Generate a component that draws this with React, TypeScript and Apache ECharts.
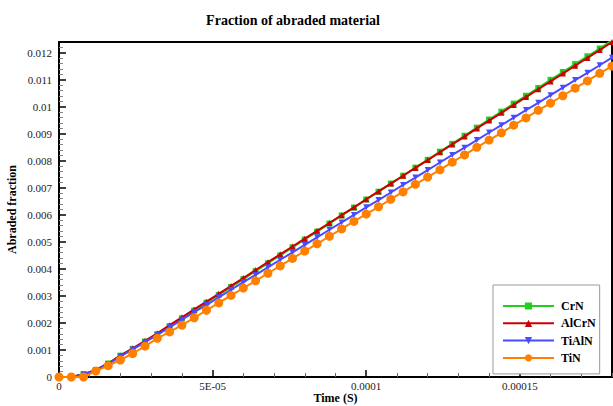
import React, { useEffect, useRef } from "react";
import * as echarts from "echarts";

const timeS = [
  0, 4e-6, 8e-6, 1.2e-5, 1.6e-5, 2e-5, 2.4e-5, 2.8e-5, 3.2e-5, 3.6e-5,
  4e-5, 4.4e-5, 4.8e-5, 5.2e-5, 5.6e-5, 6e-5, 6.4e-5, 6.8e-5, 7.2e-5, 7.6e-5,
  8e-5, 8.4e-5, 8.8e-5, 9.2e-5, 9.6e-5, 1e-4, 1.04e-4, 1.08e-4, 1.12e-4, 1.16e-4,
  1.2e-4, 1.24e-4, 1.28e-4, 1.32e-4, 1.36e-4, 1.4e-4, 1.44e-4, 1.48e-4, 1.52e-4, 1.56e-4,
  1.6e-4, 1.64e-4, 1.68e-4, 1.72e-4, 1.76e-4, 1.8e-4,
];

const crN = [
  0, 0, 0.0001, 0.00026, 0.0005, 0.00079, 0.00104, 0.00131, 0.00158, 0.00188,
  0.00217, 0.00246, 0.00275, 0.00304, 0.00333, 0.00362, 0.00392, 0.00421, 0.0045, 0.0048,
  0.00509, 0.00538, 0.00568, 0.00598, 0.00627, 0.00657, 0.00686, 0.00716, 0.00745, 0.00775,
  0.00804, 0.00834, 0.00863, 0.00893, 0.00923, 0.00953, 0.00982, 0.01012, 0.01041, 0.0107,
  0.011, 0.01129, 0.01158, 0.01187, 0.01216, 0.01246,
];

const alCrN = [
  0, 0, 0.0001, 0.00026, 0.0005, 0.0008, 0.00106, 0.00134, 0.00162, 0.00192,
  0.00221, 0.0025, 0.00279, 0.00308, 0.00337, 0.00366, 0.00396, 0.00425, 0.00454, 0.00483,
  0.00512, 0.00541, 0.0057, 0.00599, 0.00628, 0.00658, 0.00687, 0.00716, 0.00745, 0.00774,
  0.00803, 0.00832, 0.00861, 0.0089, 0.0092, 0.00949, 0.00978, 0.01007, 0.01036, 0.01065,
  0.01094, 0.01123, 0.01152, 0.01181, 0.0121, 0.0124,
];

const tiAlN = [
  0, 0, 0.0001, 0.00025, 0.00048, 0.00076, 0.00102, 0.00129, 0.00156, 0.00184,
  0.00212, 0.0024, 0.00267, 0.00295, 0.00323, 0.00351, 0.00378, 0.00406, 0.00434, 0.00461,
  0.00489, 0.00517, 0.00545, 0.00572, 0.006, 0.00628, 0.00655, 0.00683, 0.00711, 0.00738,
  0.00766, 0.00794, 0.00822, 0.00849, 0.00877, 0.00905, 0.00932, 0.0096, 0.00988, 0.01015,
  0.01043, 0.01071, 0.01099, 0.01126, 0.01154, 0.01182,
];

const tiN = [
  0, 0, 0, 0.00022, 0.00042, 0.00063, 0.00087, 0.00114, 0.00143, 0.00167,
  0.00192, 0.00219, 0.00247, 0.00274, 0.00302, 0.00329, 0.00356, 0.00384, 0.00411, 0.00439,
  0.00466, 0.00493, 0.00521, 0.00548, 0.00576, 0.00603, 0.0063, 0.00658, 0.00685, 0.00713,
  0.0074, 0.00767, 0.00795, 0.00822, 0.0085, 0.00877, 0.00904, 0.00932, 0.00959, 0.00987,
  0.01014, 0.01041, 0.01069, 0.01096, 0.01124, 0.01151,
];

const seriesNames = ["CrN", "AlCrN", "TiAlN", "TiN"];
const seriesColors = ["#1fd01f", "#cc0000", "#4a4aff", "#ff8000"];
const seriesSymbols = ["rect", "triangle", "triangle", "circle"];
const seriesSymbolSizes = [6, 6, 6, 9];
const seriesSymbolRotate = [0, 0, 180, 0];
const seriesValues = [crN, alCrN, tiAlN, tiN];

const SERIF = "'Liberation Serif', 'Times New Roman', serif";

function fmtX(v: number): string {
  if (Math.abs(v) < 1e-12) return "0";
  if (Math.abs(v - 5e-5) < 1e-10) return "5E-05";
  return String(+v.toPrecision(6));
}

function fmtY(v: number): string {
  if (Math.abs(v) < 1e-12) return "0";
  return String(+v.toPrecision(6));
}

export default function App() {
  const ref = useRef<HTMLDivElement>(null);

  useEffect(() => {
    if (!ref.current) return;
    const chart = echarts.init(ref.current, null, { renderer: "svg" });
    const option: any = {
      animation: false,
      backgroundColor: "#ffffff",
      title: {
        text: "Fraction of abraded material",
        left: 288,
        top: 8,
        textAlign: "center",
        textStyle: {
          fontFamily: SERIF,
          fontWeight: "bold",
          fontSize: 14,
          color: "#000",
        },
      },
      legend: {
        orient: "vertical",
        left: 493,
        top: 285,
        itemWidth: 51,
        itemHeight: 9,
        itemGap: 5.3,
        padding: [15, 4, 10, 9],
        borderColor: "#999",
        borderWidth: 1,
        backgroundColor: "#fff",
        textStyle: {
          fontFamily: SERIF,
          fontWeight: "bold",
          fontSize: 12,
          color: "#000",
          padding: [0, 0, 0, 2],
        },
        data: seriesNames,
      },
      grid: {
        left: 59,
        right: 1,
        top: 42,
        bottom: 29,
        outerBoundsMode: "none",
        containLabel: false,
        show: true,
        borderColor: "#000",
        borderWidth: 2,
        backgroundColor: "transparent",
      },
      xAxis: {
        type: "value",
        min: 0,
        max: 0.00018,
        interval: 5e-5,
        name: "Time (S)",
        nameLocation: "middle",
        nameGap: 15,
        nameMoveOverlap: false,
        nameTextStyle: {
          fontFamily: SERIF,
          fontWeight: "bold",
          fontSize: 12,
          color: "#000",
        },
        axisLine: { show: true, lineStyle: { color: "#000", width: 2 } },
        axisTick: { show: true, inside: true, length: 7, lineStyle: { color: "#000", width: 1.5 } },
        minorTick: { show: true, splitNumber: 5, length: 4, lineStyle: { color: "#666", width: 1 } },
        splitLine: { show: false },
        axisLabel: {
          formatter: fmtX,
          fontFamily: SERIF,
          fontSize: 11,
          color: "#222",
          margin: 3,
          showMaxLabel: false,
        },
      },
      yAxis: {
        type: "value",
        min: 0,
        max: 0.0124,
        interval: 0.001,
        name: "Abraded fraction",
        nameLocation: "middle",
        nameGap: 41,
        nameMoveOverlap: false,
        nameRotate: 90,
        nameTextStyle: {
          fontFamily: SERIF,
          fontWeight: "bold",
          fontSize: 12,
          color: "#000",
        },
        axisLine: { show: true, lineStyle: { color: "#000", width: 2 } },
        axisTick: { show: true, inside: true, length: 7, lineStyle: { color: "#000", width: 1.5 } },
        minorTick: { show: true, splitNumber: 5, length: 4, lineStyle: { color: "#888", width: 1 } },
        splitLine: { show: false },
        axisLabel: {
          formatter: fmtY,
          fontFamily: SERIF,
          fontSize: 11,
          color: "#222",
          margin: 7,
          showMaxLabel: false,
        },
      },
      series: seriesNames.map((name, k) => ({
        name,
        type: "line",
        data: timeS.map((t, i) => [t, seriesValues[k][i]]),
        symbol: seriesSymbols[k],
        symbolSize: seriesSymbolSizes[k],
        symbolRotate: seriesSymbolRotate[k],
        showAllSymbol: true,
        clip: true,
        lineStyle: { color: seriesColors[k], width: 2 },
        itemStyle: { color: seriesColors[k] },
        z: 2 + k,
      })),
    };
    chart.setOption(option);
    return () => {
      chart.dispose();
    };
  }, []);

  return (
    <div
      ref={ref}
      style={{ position: "fixed", left: 0, top: 0, width: 613, height: 406, background: "#fff" }}
    />
  );
}
